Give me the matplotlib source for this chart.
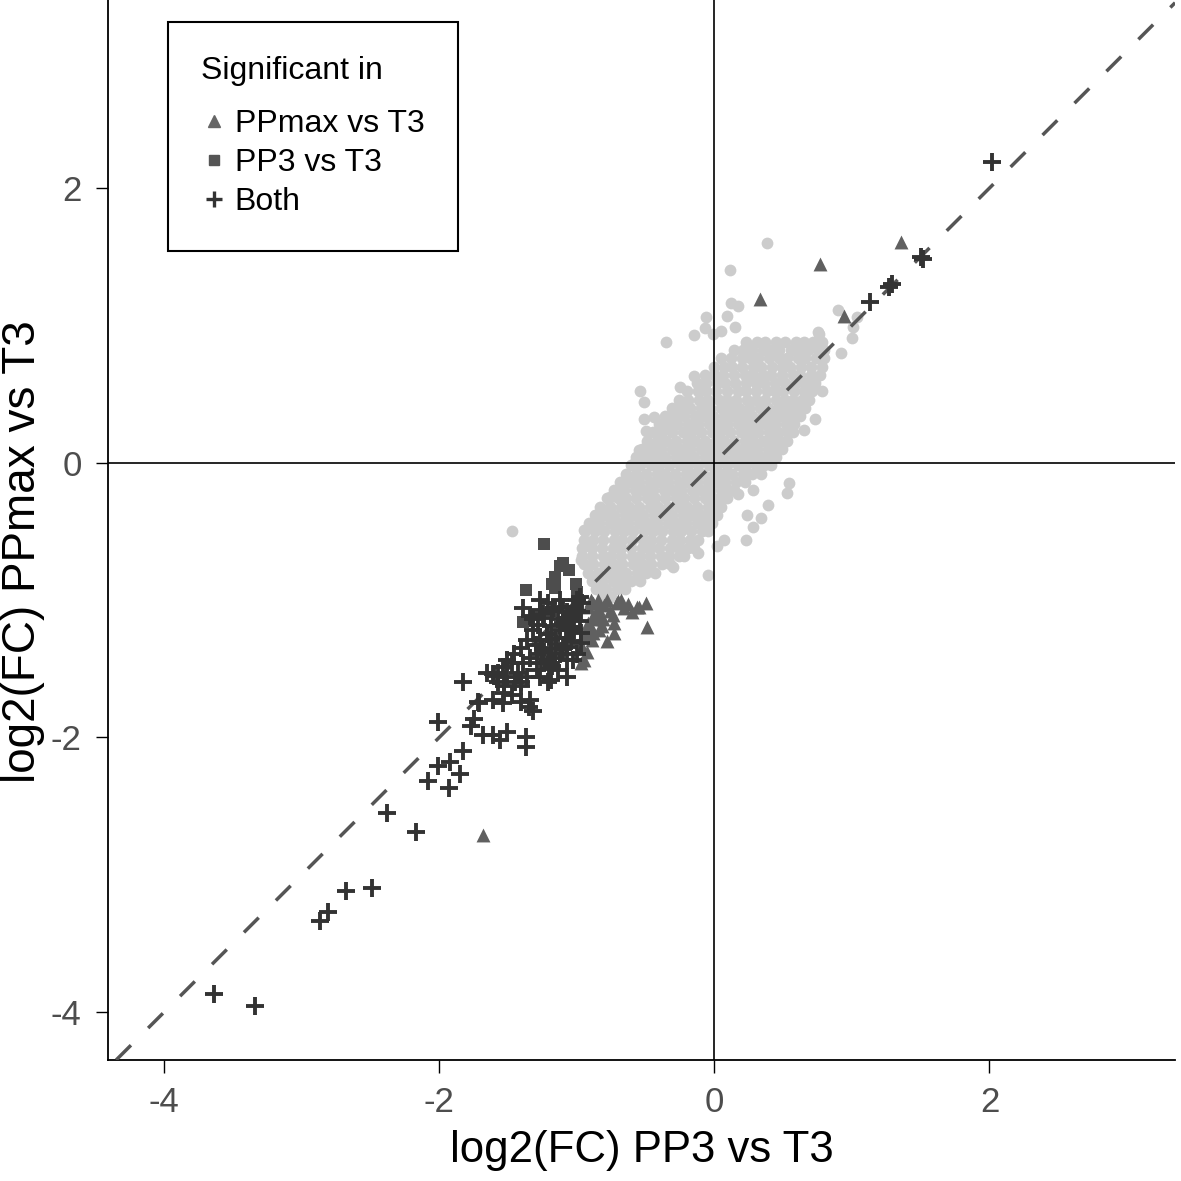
import matplotlib
matplotlib.use("Agg")
import matplotlib.pyplot as plt
from matplotlib.lines import Line2D

plt.rcParams["font.family"] = ["Liberation Sans", "DejaVu Sans"]
plt.rcParams["axes.unicode_minus"] = False

# not significant genes: dense cloud, one row per y level (y, x values)
grey_rows = [
    (0.88, [0.23, 0.31, 0.37, 0.45, 0.51, 0.59, 0.65, 0.72, 0.78]),
    (0.82, [0.14, 0.21, 0.27, 0.35, 0.41, 0.47, 0.56, 0.61, 0.68, 0.75, 0.80]),
    (0.76, [0.05, 0.12, 0.20, 0.26, 0.32, 0.40, 0.47, 0.53, 0.61, 0.66, 0.74, 0.80]),
    (0.70, [0.00, 0.07, 0.13, 0.20, 0.28, 0.34, 0.42, 0.49, 0.55, 0.63, 0.70, 0.78]),
    (0.64, [-0.07, 0.00, 0.06, 0.14, 0.22, 0.28, 0.35, 0.41, 0.49, 0.57, 0.62, 0.70, 0.77]),
    (0.58, [-0.13, -0.06, 0.02, 0.08, 0.15, 0.23, 0.30, 0.36, 0.44, 0.51, 0.59, 0.66, 0.73]),
    (0.52, [-0.20, -0.12, -0.06, 0.01, 0.09, 0.17, 0.23, 0.30, 0.38, 0.44, 0.50, 0.58, 0.65, 0.71]),
    (0.46, [-0.26, -0.19, -0.11, -0.05, 0.03, 0.09, 0.16, 0.24, 0.30, 0.37, 0.45, 0.51, 0.57, 0.64, 0.69]),
    (0.40, [-0.31, -0.24, -0.18, -0.10, -0.03, 0.05, 0.11, 0.18, 0.25, 0.33, 0.39, 0.46, 0.53, 0.60, 0.66]),
    (0.34, [-0.36, -0.29, -0.22, -0.14, -0.08, -0.01, 0.07, 0.13, 0.20, 0.27, 0.35, 0.41, 0.48, 0.55, 0.62]),
    (0.28, [-0.40, -0.33, -0.27, -0.19, -0.12, -0.04, 0.02, 0.09, 0.17, 0.23, 0.30, 0.37, 0.44, 0.52, 0.58]),
    (0.22, [-0.45, -0.38, -0.31, -0.23, -0.17, -0.10, -0.02, 0.04, 0.11, 0.19, 0.25, 0.32, 0.40, 0.46, 0.53, 0.57]),
    (0.16, [-0.49, -0.42, -0.35, -0.28, -0.20, -0.14, -0.07, 0.01, 0.07, 0.14, 0.22, 0.28, 0.35, 0.42, 0.48, 0.53]),
    (0.10, [-0.53, -0.46, -0.39, -0.31, -0.25, -0.18, -0.10, -0.04, 0.03, 0.11, 0.17, 0.24, 0.31, 0.39, 0.45, 0.49]),
    (0.04, [-0.57, -0.50, -0.43, -0.36, -0.28, -0.22, -0.15, -0.07, -0.01, 0.06, 0.14, 0.20, 0.27, 0.34, 0.40, 0.45]),
    (-0.02, [-0.61, -0.54, -0.46, -0.40, -0.33, -0.25, -0.19, -0.12, -0.04, 0.02, 0.09, 0.17, 0.23, 0.30, 0.36, 0.41]),
    (-0.08, [-0.64, -0.57, -0.50, -0.42, -0.36, -0.29, -0.21, -0.15, -0.08, 0.00, 0.06, 0.13, 0.21, 0.27, 0.34]),
    (-0.14, [-0.69, -0.62, -0.55, -0.47, -0.41, -0.34, -0.26, -0.20, -0.13, -0.05, 0.01, 0.08, 0.16, 0.22]),
    (-0.20, [-0.73, -0.66, -0.58, -0.52, -0.45, -0.37, -0.31, -0.24, -0.16, -0.10, -0.03, 0.05, 0.10, 0.14]),
    (-0.26, [-0.78, -0.70, -0.64, -0.57, -0.49, -0.43, -0.36, -0.28, -0.22, -0.15, -0.07, -0.01, 0.05, 0.09]),
    (-0.32, [-0.83, -0.76, -0.68, -0.62, -0.55, -0.47, -0.41, -0.34, -0.26, -0.20, -0.13, -0.05, 0.01, 0.05]),
    (-0.38, [-0.87, -0.80, -0.73, -0.65, -0.59, -0.52, -0.44, -0.38, -0.31, -0.23, -0.17, -0.10, -0.03, 0.02]),
    (-0.44, [-0.91, -0.84, -0.76, -0.70, -0.63, -0.55, -0.49, -0.42, -0.34, -0.28, -0.21, -0.13, -0.07, -0.02]),
    (-0.50, [-0.94, -0.87, -0.80, -0.72, -0.66, -0.59, -0.51, -0.45, -0.38, -0.30, -0.24, -0.17, -0.09, -0.05]),
    (-0.56, [-0.95, -0.88, -0.81, -0.73, -0.67, -0.60, -0.52, -0.46, -0.39, -0.31, -0.25, -0.18, -0.12]),
    (-0.62, [-0.96, -0.89, -0.82, -0.74, -0.68, -0.61, -0.53, -0.47, -0.40, -0.32, -0.26, -0.19, -0.15]),
    (-0.68, [-0.96, -0.89, -0.81, -0.75, -0.68, -0.60, -0.54, -0.47, -0.39, -0.33, -0.26, -0.22]),
    (-0.74, [-0.95, -0.88, -0.80, -0.74, -0.67, -0.59, -0.53, -0.46, -0.38, -0.32]),
    (-0.80, [-0.92, -0.85, -0.77, -0.71, -0.64, -0.56, -0.50, -0.43]),
    (-0.86, [-0.89, -0.82, -0.74, -0.68, -0.61, -0.54]),
    (-0.92, [-0.86, -0.79, -0.71, -0.65]),
    (-0.98, [-0.82, -0.75]),
]

# scattered non-significant genes outside the dense cloud
grey_out_x = [0.38, 0.11, 0.12, 0.17, -0.06, 0.09, 0.15, -0.07, -0.15, -0.01, 0.05,
              -0.35, 0.90, 1.01, 1.00, 0.92, 0.76, 1.04, 0.24, 0.46, 0.57, 0.75,
              -0.54, -0.51, -0.51, -0.44, -0.50, -0.55, -0.57, -0.25, -0.15,
              -0.67, -0.76, -0.76, -0.95, -0.89, -0.92, -0.97,
              0.78, 0.73, 0.65, 0.63, 0.54, 0.53, 0.39, 0.34, 0.28, 0.23,
              -0.05, -0.12, -0.30, 0.28, 0.17, 0.24, 0.07, 0.02, -1.47]
grey_out_y = [1.60, 1.40, 1.16, 1.14, 1.06, 1.07, 0.99, 0.98, 0.93, 0.94, 0.96,
              0.88, 1.11, 0.99, 0.91, 0.80, 0.94, 1.06, 0.85, 0.81, 0.82, 0.95,
              0.52, 0.44, 0.32, 0.33, 0.23, 0.09, 0.02, 0.55, 0.63,
              -0.14, -0.25, -0.32, -0.49, -0.47, -0.61, -0.71,
              0.52, 0.32, 0.24, 0.44, -0.15, -0.22, -0.31, -0.40, -0.47, -0.56,
              -0.82, -0.66, -0.76, -0.20, -0.23, -0.38, -0.56, -0.61, -0.50]

# significant in PPmax vs T3 only
tri_x = [0.77, 0.33, 0.94, 1.36, -1.68,
         -0.85, -0.78, -0.70, -0.63, -0.55, -0.50, -0.60, -0.73, -0.73, -0.78,
         -0.49, -0.89, -0.95, -0.93, -0.81, -0.88, -0.93, -0.71, -0.56, -0.90,
         -0.97, -0.92, -0.85, -0.92, -0.88, -0.84, -0.80, -0.86, -0.82, -0.90,
         -0.95, -0.88, -0.84, -0.96, -0.76, -0.66, -0.74, -0.68]
tri_y = [1.45, 1.19, 1.07, 1.61, -2.71,
         -1.00, -1.00, -1.01, -1.03, -1.05, -1.02, -1.09, -1.17, -1.24, -1.30,
         -1.20, -1.29, -1.44, -1.38, -1.14, -1.12, -1.23, -1.02, -1.05, -1.00,
         -1.46, -1.05, -1.06, -1.17, -1.02, -1.10, -1.04, -1.14, -1.19, -1.20,
         -1.25, -1.24, -1.22, -1.34, -1.08, -1.06, -1.11, -1.00]

# significant in PP3 vs T3 only
sq_x = [-1.24, -1.10, -1.06, -1.16, -1.18, -1.37, -1.01, -1.00, -1.16, -1.39, -1.12]
sq_y = [-0.59, -0.73, -0.78, -0.83, -0.88, -0.93, -0.88, -0.94, -0.91, -1.16, -0.75]

# significant in both comparisons
both_x = [2.02, 1.50, 1.52, 1.29, 1.27, 1.13,
          -3.64, -3.34, -2.87, -2.81, -2.68, -2.49, -2.38, -2.17,
          -1.83, -2.01, -1.71, -1.75, -1.77, -1.83, -1.92, -2.01, -1.85, -2.08, -1.93,
          -1.68, -1.61, -1.56, -1.51, -1.37, -1.37, -1.57, -1.60, -1.32, -1.35, -1.54,
          -1.41, -1.07, -1.21,
          -1.72, -1.61, -1.57, -1.54, -1.51, -1.46, -1.41, -1.36, -1.32, -1.27, -1.21,
          -1.12, -1.00, -1.03, -1.07, -1.14, -1.19, -1.07, -0.97, -0.97, -1.07, -1.12,
          -1.21, -1.29, -1.36, -1.45, -1.53, -1.61, -1.18, -1.27, -1.41, -1.34,
          -1.39, -1.34, -1.24, -1.17, -1.12, -1.27, -1.19, -1.29, -1.39, -1.19,
          -1.03, -1.00, -1.03, -0.97, -1.27, -1.32, -1.47, -1.43, -1.51, -1.65,
          -1.53, -1.47, -1.41, -1.07, -1.14, -1.19, -0.98, -1.10, -1.22, -1.15,
          -1.05, -1.25,
          -1.25, -1.18, -1.10, -1.05, -1.00, -0.98, -1.02, -1.08, -1.15, -1.22, -1.28,
          -1.24, -1.16, -1.10, -1.04, -1.30, -1.34, -1.20, -1.26, -0.96, -1.12, -1.06]
both_y = [2.19, 1.50, 1.48, 1.30, 1.28, 1.17,
          -3.87, -3.96, -3.34, -3.27, -3.12, -3.10, -2.55, -2.69,
          -1.60, -1.89, -1.75, -1.87, -1.92, -2.10, -2.18, -2.21, -2.27, -2.32, -2.37,
          -1.98, -1.98, -2.02, -1.96, -2.00, -2.07, -1.53, -1.55, -1.81, -1.78, -1.75,
          -1.60, -1.56, -1.60,
          -1.74, -1.54, -1.60, -1.49, -1.44, -1.39, -1.35, -1.29, -1.22, -1.07, -1.02,
          -1.00, -1.00, -1.05, -1.09, -1.14, -1.19, -1.22, -1.24, -1.31, -1.34, -1.39,
          -1.44, -1.51, -1.56, -1.60, -1.68, -1.73, -1.48, -1.56, -1.63, -1.73,
          -1.06, -1.12, -1.13, -1.06, -1.22, -1.29, -1.29, -1.39, -1.46, -1.35,
          -1.14, -1.39, -1.44, -1.09, -1.00, -1.14, -1.46, -1.53, -1.56, -1.53,
          -1.63, -1.69, -1.74, -1.44, -1.51, -1.58, -0.98, -1.17, -1.25, -1.28,
          -1.20, -1.36,
          -1.10, -1.08, -1.05, -1.12, -1.08, -1.15, -1.22, -1.28, -1.32, -1.25, -1.18,
          -1.38, -1.42, -1.36, -1.30, -1.33, -1.42, -1.50, -1.46, -1.02, -1.18, -1.20]

xlim = (-4.41, 3.35)
ylim = (-4.35, 3.37)
ticks = [-4, -2, 0, 2]

grey_x = [x for y, xs in grey_rows for x in xs] + grey_out_x
grey_y = [y for y, xs in grey_rows for x in xs] + grey_out_y

fig = plt.figure(figsize=(11.81, 11.81), dpi=100)
ax = fig.add_axes([0.0914, 0.1025, 0.9036, 0.8975])

ax.scatter(grey_x, grey_y, s=72, color="#cccccc", linewidths=0, zorder=2)

# reference lines
ax.axhline(0, color="black", lw=1.2, zorder=2.5)
ax.axvline(0, color="black", lw=1.2, zorder=2.5)
ax.axline((0, 0), slope=1, color="#555555", lw=2.5, dashes=(6, 7), zorder=2.6)

ax.scatter(tri_x, tri_y, s=100, marker="^", color="#606060", linewidths=0, zorder=3)
ax.scatter(sq_x, sq_y, s=75, marker="s", color="#4d4d4d", linewidths=0, zorder=3.1)
ax.scatter(both_x, both_y, s=150, marker="+", color="#333333", linewidths=2.8, zorder=3.2)

ax.set_xlim(*xlim)
ax.set_ylim(*ylim)
ax.set_xticks(ticks)
ax.set_yticks(ticks)
ax.tick_params(labelsize=25, labelcolor="#4d4d4d", length=9, width=1, pad=10)
for side in ["top", "right"]:
    ax.spines[side].set_visible(False)
for side in ["left", "bottom"]:
    ax.spines[side].set_linewidth(1.3)

ax.set_xlabel("log2(FC) PP3 vs T3", fontsize=31.5, labelpad=8)
ax.set_ylabel("log2(FC) PPmax vs T3", fontsize=33)
ax.yaxis.set_label_coords(-0.059, 0.48)

handles = [
    Line2D([], [], ls="none", marker="^", color="#666666", markersize=8),
    Line2D([], [], ls="none", marker="s", color="#555555", markersize=7),
    Line2D([], [], ls="none", marker="+", color="#333333", markersize=12, mew=2.4),
]
leg = ax.legend(handles, ["PPmax vs T3", "PP3 vs T3", "Both"], title="Significant in",
                loc="upper left", bbox_to_anchor=(0.056, 0.979), fontsize=23,
                title_fontsize=23, alignment="left", frameon=True, fancybox=False,
                edgecolor="black", framealpha=1, borderpad=1.05, handlelength=0.8,
                handletextpad=0.25, labelspacing=0.28, borderaxespad=0)
leg.get_frame().set_linewidth(1.5)
leg._legend_box.sep = 17

fig.savefig("out.png", dpi=100)
